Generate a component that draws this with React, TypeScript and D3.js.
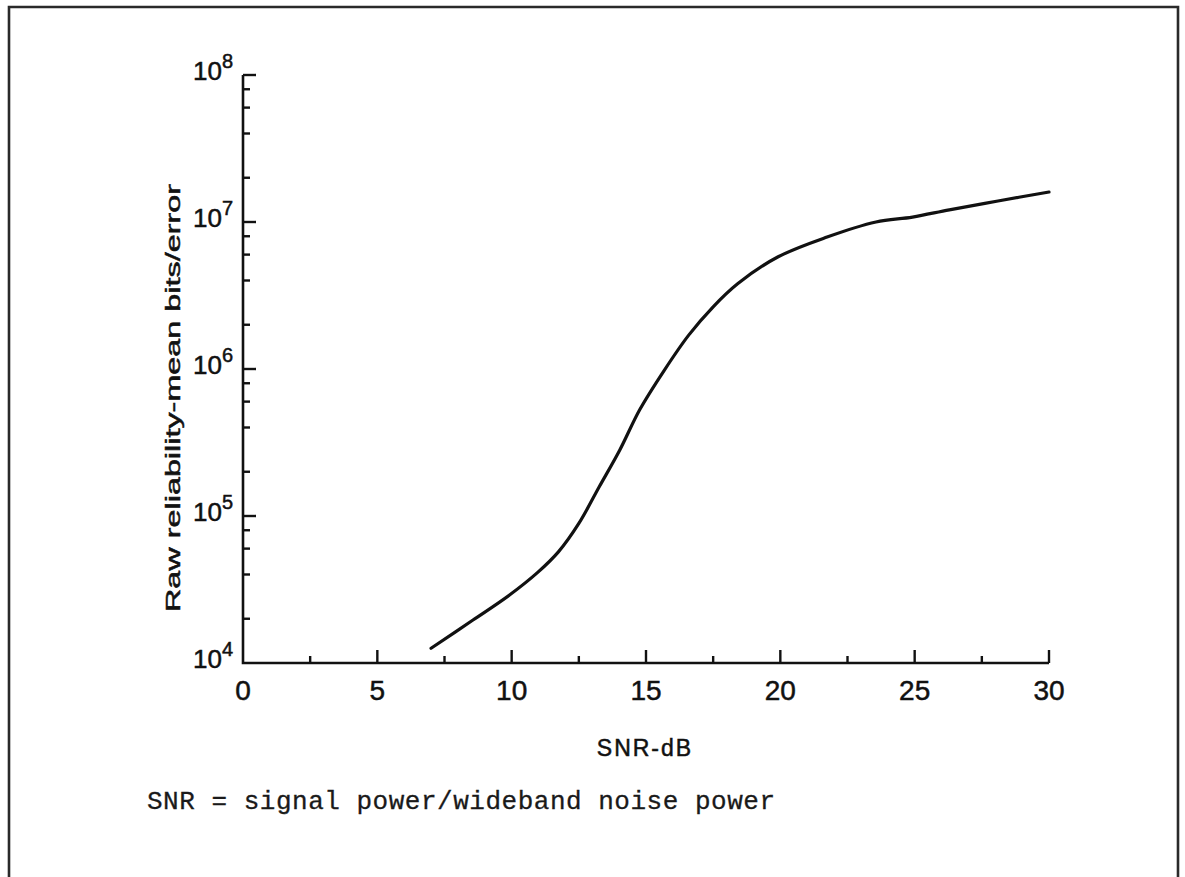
import React, { useEffect, useRef } from "react";
import * as d3 from "d3";

// SNR in dB and raw reliability (mean bits per error)
const snrDb = [7.0, 8.56, 9.92, 10.98, 11.74, 12.5, 13.26, 14.02, 14.77, 15.68, 16.59, 17.5, 18.41, 19.92, 21.74, 23.56, 24.92, 26.29, 28.1, 30.0];
const bitsPerError = [1.26e4, 1.96e4, 2.9e4, 4.15e4, 5.7e4, 8.9e4, 1.58e5, 2.8e5, 5.3e5, 9.8e5, 1.7e6, 2.65e6, 3.8e6, 5.8e6, 7.9e6, 1.0e7, 1.08e7, 1.21e7, 1.39e7, 1.6e7];

const xMajorTicks = [0, 5, 10, 15, 20, 25, 30];
const xMinorTicks = [2.5, 7.5, 12.5, 17.5, 22.5, 27.5];
const yDecades = [4, 5, 6, 7, 8];
const yMinorMultipliers = [2, 4, 6, 8];

const xTitle = "SNR-dB";
const yTitle = "Raw reliability-mean bits/error";
const caption = "SNR = signal power/wideband noise power";

const W = 1185;
const H = 877;
const ink = "#111";
const labelFont = "'Liberation Sans', Arial, sans-serif";

export default function App() {
  const ref = useRef<SVGSVGElement>(null);

  useEffect(() => {
    const svg = d3.select(ref.current);
    svg.selectAll("*").remove();

    const x = d3.scaleLinear().domain([0, 30]).range([243, 1049]);
    const y = d3.scaleLog().domain([1e4, 1e8]).range([663, 75]);

    // outer frame (open at the bottom edge of the page)
    svg.append("path")
      .attr("d", `M9,${H + 5} L9,7 L1178,7 L1178,${H + 5}`)
      .attr("fill", "none").attr("stroke", "#2a2a2a").attr("stroke-width", 2.6);

    const g = svg.append("g");

    // axes lines
    g.append("path")
      .attr("d", `M${x(0)},${y(1e8)} L${x(0)},${y(1e4)} L${x(30)},${y(1e4)}`)
      .attr("fill", "none").attr("stroke", ink).attr("stroke-width", 2.6)
      .attr("stroke-linejoin", "miter");

    // x ticks
    xMajorTicks.filter((t) => t > 0).forEach((t) => {
      g.append("line").attr("x1", x(t)).attr("x2", x(t))
        .attr("y1", y(1e4)).attr("y2", y(1e4) - 13)
        .attr("stroke", ink).attr("stroke-width", 2.4);
    });
    xMinorTicks.forEach((t) => {
      g.append("line").attr("x1", x(t)).attr("x2", x(t))
        .attr("y1", y(1e4)).attr("y2", y(1e4) - 7)
        .attr("stroke", ink).attr("stroke-width", 2.4);
    });

    // x tick labels
    xMajorTicks.forEach((t) => {
      g.append("text").attr("x", x(t)).attr("y", 700)
        .attr("text-anchor", "middle")
        .attr("font-family", labelFont).attr("font-size", 28)
        .attr("fill", ink).attr("stroke", ink).attr("stroke-width", 0.5)
        .text(String(t));
    });

    // y ticks
    yDecades.filter((d) => d > 4).forEach((d) => {
      g.append("line").attr("x1", x(0)).attr("x2", x(0) + 13)
        .attr("y1", y(10 ** d)).attr("y2", y(10 ** d))
        .attr("stroke", ink).attr("stroke-width", 2.4);
    });
    yDecades.slice(0, -1).forEach((d) => {
      yMinorMultipliers.forEach((m) => {
        g.append("line").attr("x1", x(0)).attr("x2", x(0) + 7)
          .attr("y1", y(m * 10 ** d)).attr("y2", y(m * 10 ** d))
          .attr("stroke", ink).attr("stroke-width", 2.4);
      });
    });

    // y tick labels 10^n
    yDecades.forEach((d) => {
      const t = g.append("text").attr("x", x(0) - 10).attr("y", y(10 ** d) + 5)
        .attr("text-anchor", "end")
        .attr("font-family", labelFont).attr("font-size", 26)
        .attr("fill", ink).attr("stroke", ink).attr("stroke-width", 0.5);
      t.append("tspan").text("10");
      t.append("tspan").attr("dy", -12).attr("font-size", 20).text(String(d));
    });

    // axis titles
    g.append("text").attr("x", 645).attr("y", 756)
      .attr("text-anchor", "middle")
      .attr("font-family", labelFont).attr("font-size", 23)
      .attr("letter-spacing", 2)
      .attr("fill", ink).attr("stroke", ink).attr("stroke-width", 0.5)
      .text(xTitle);

    g.append("text")
      .attr("transform", `translate(180,398) rotate(-90)`)
      .attr("text-anchor", "middle")
      .attr("font-family", labelFont).attr("font-size", 21)
      .attr("textLength", 428).attr("lengthAdjust", "spacingAndGlyphs")
      .attr("fill", ink).attr("stroke", ink).attr("stroke-width", 0.5)
      .text(yTitle);

    // curve
    const line = d3.line<number>()
      .x((_, i) => x(snrDb[i]))
      .y((v) => y(v))
      .curve(d3.curveCatmullRom.alpha(0.5));
    g.append("path")
      .attr("d", line(bitsPerError))
      .attr("fill", "none").attr("stroke", ink).attr("stroke-width", 3.2)
      .attr("stroke-linecap", "round");

    // caption
    g.append("text").attr("x", 147).attr("y", 809)
      .attr("font-family", "'Liberation Mono', 'DejaVu Sans Mono', monospace")
      .attr("font-size", 26)
      .attr("textLength", 628).attr("lengthAdjust", "spacing")
      .attr("fill", "#1a1a1a").attr("stroke", "#1a1a1a").attr("stroke-width", 0.3)
      .text(caption);
  }, []);

  return (
    <svg
      ref={ref}
      width={W}
      height={H}
      style={{ position: "absolute", left: 0, top: 0, background: "#fff" }}
    />
  );
}
